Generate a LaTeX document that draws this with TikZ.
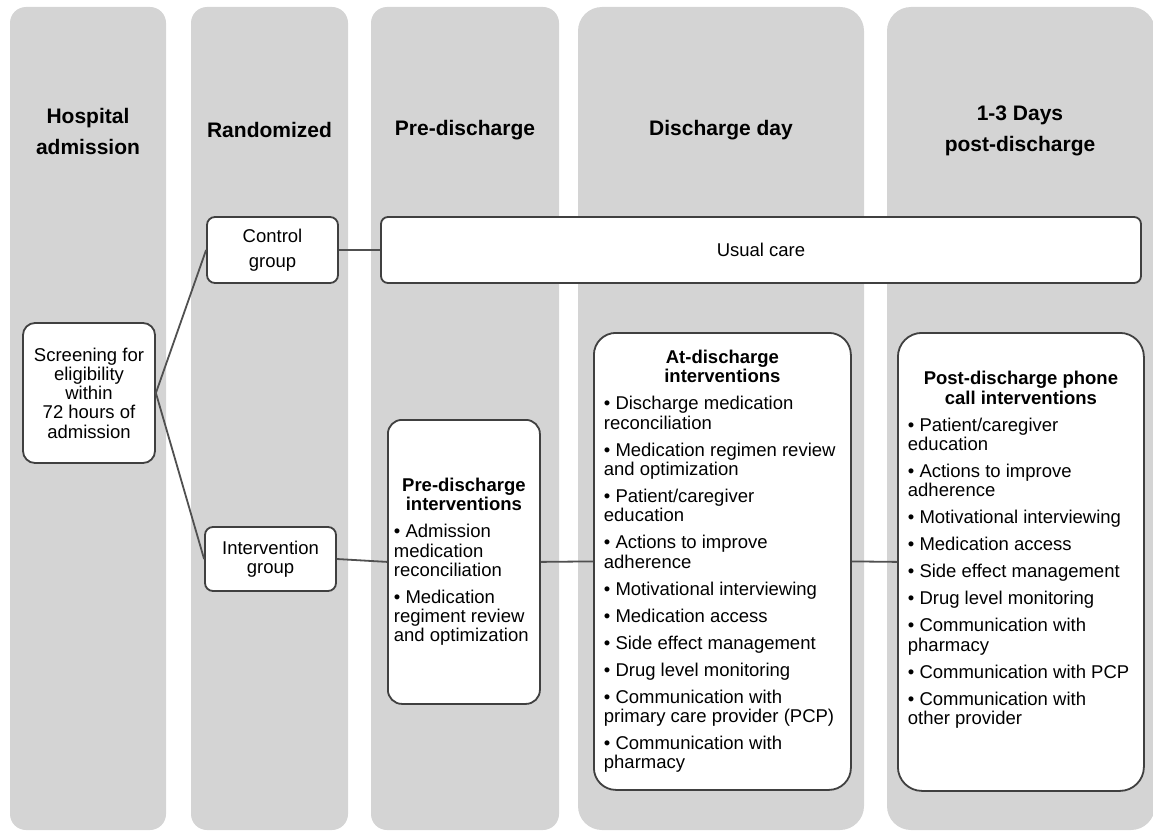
\documentclass[tikz,border=0pt]{standalone}
\usepackage{fontspec}
\setmainfont{Liberation Sans}
\definecolor{colbg}{RGB}{212,212,212}
\definecolor{edgec}{RGB}{64,64,64}
\definecolor{connc}{RGB}{80,80,80}
\newcommand{\lstsetup}[1]{\fontsize{18.5}{19.3}\selectfont\raggedright\setlength{\leftskip}{#1}\setlength{\parskip}{7.7pt}}
\tikzset{
  colbox/.style={fill=colbg, draw=none},
  hdr/.style={font=\fontsize{21}{31}\selectfont\bfseries, align=center, text=black, inner sep=0pt},
  box/.style={draw=edgec, line width=1.8pt, fill=white, inner sep=0pt},
  body/.style={font=\fontsize{18.5}{19.3}\selectfont, align=center},
  conn/.style={draw=connc, line width=1.8pt}
}
\begin{document}
\begin{tikzpicture}[x=1pt,y=-1pt]
\useasboundingbox (0,0) rectangle (1153,832);
% columns
\path[colbox, rounded corners=16pt] (10,7) rectangle (166,830);
\path[colbox, rounded corners=16pt] (191,7) rectangle (348,830);
\path[colbox, rounded corners=16pt] (371,7) rectangle (559,830);
\path[colbox, rounded corners=24pt] (578,7) rectangle (864,830);
\path[colbox, rounded corners=24pt] (887,7) rectangle (1155,830);
% headers
\node[hdr] (h1) at (88,131) {Hospital\\admission};
\node[hdr] (h2) at (269.5,130) {Randomized};
\node[hdr] (h3) at (465,130) {Pre-discharge};
\node[hdr] (h4) at (721,130) {Discharge day};
\node[hdr] (h5) at (1020,131) {1-3 Days\\post-discharge};
% boxes
\node[box, body, rounded corners=12pt, minimum width=132pt, minimum height=140pt] (scr) at (89,393)
  {Screening for\\eligibility\\within\\72 hours of\\admission};
\node[box, body, rounded corners=8pt, minimum width=131pt, minimum height=66pt] (ctrl) at (272.5,250)
  {Control\\[6pt]group};
\node[box, body, rounded corners=8pt, minimum width=131pt, minimum height=64pt] (intv) at (270.5,559)
  {Intervention\\group};
\node[box, body, rounded corners=7pt, minimum width=760pt, minimum height=66pt] (usual) at (761,250)
  {Usual care};
\node[box, rounded corners=14pt, anchor=north west] (pre) at (387,419)
  {\begin{minipage}[c][284pt][c]{152pt}\lstsetup{6pt}%
  {\centering\bfseries Pre-discharge\break interventions\par}
  • Admission\break medication\break reconciliation\par
  • Medication\break regiment review\break and optimization\par
  \end{minipage}};
\node[box, rounded corners=22pt, anchor=north west] (atd) at (593,332)
  {\begin{minipage}[c][457pt][c]{257pt}\lstsetup{10pt}%
  {\centering\bfseries At-discharge\break interventions\par}
  • Discharge medication\break reconciliation\par
  • Medication regimen review\break and optimization\par
  • Patient/caregiver\break education\par
  • Actions to improve\break adherence\par
  • Motivational interviewing\par
  • Medication access\par
  • Side effect management\par
  • Drug level monitoring\par
  • Communication with\break primary care provider (PCP)\par
  • Communication with\break pharmacy\par
  \end{minipage}};
\node[box, rounded corners=24pt, anchor=north west] (post) at (897,332)
  {\begin{minipage}[c][458pt][c]{246pt}\lstsetup{10pt}%
  {\centering\bfseries Post-discharge phone\break call interventions\par}
  • Patient/caregiver\break education\par
  • Actions to improve\break adherence\par
  • Motivational interviewing\par
  • Medication access\par
  • Side effect management\par
  • Drug level monitoring\par
  • Communication with\break pharmacy\par
  • Communication with PCP\par
  • Communication with\break other provider\par
  \vspace{24pt}
  \end{minipage}};
% connectors
\draw[conn] (scr.east) -- (ctrl.west);
\draw[conn] (scr.east) -- (intv.west);
\draw[conn] (ctrl.east) -- (usual.west);
\draw[conn] (intv.east) -- (pre.west);
\draw[conn] (pre.east) -- (atd.west);
\draw[conn] (atd.east) -- (post.west);
\end{tikzpicture}
\end{document}
